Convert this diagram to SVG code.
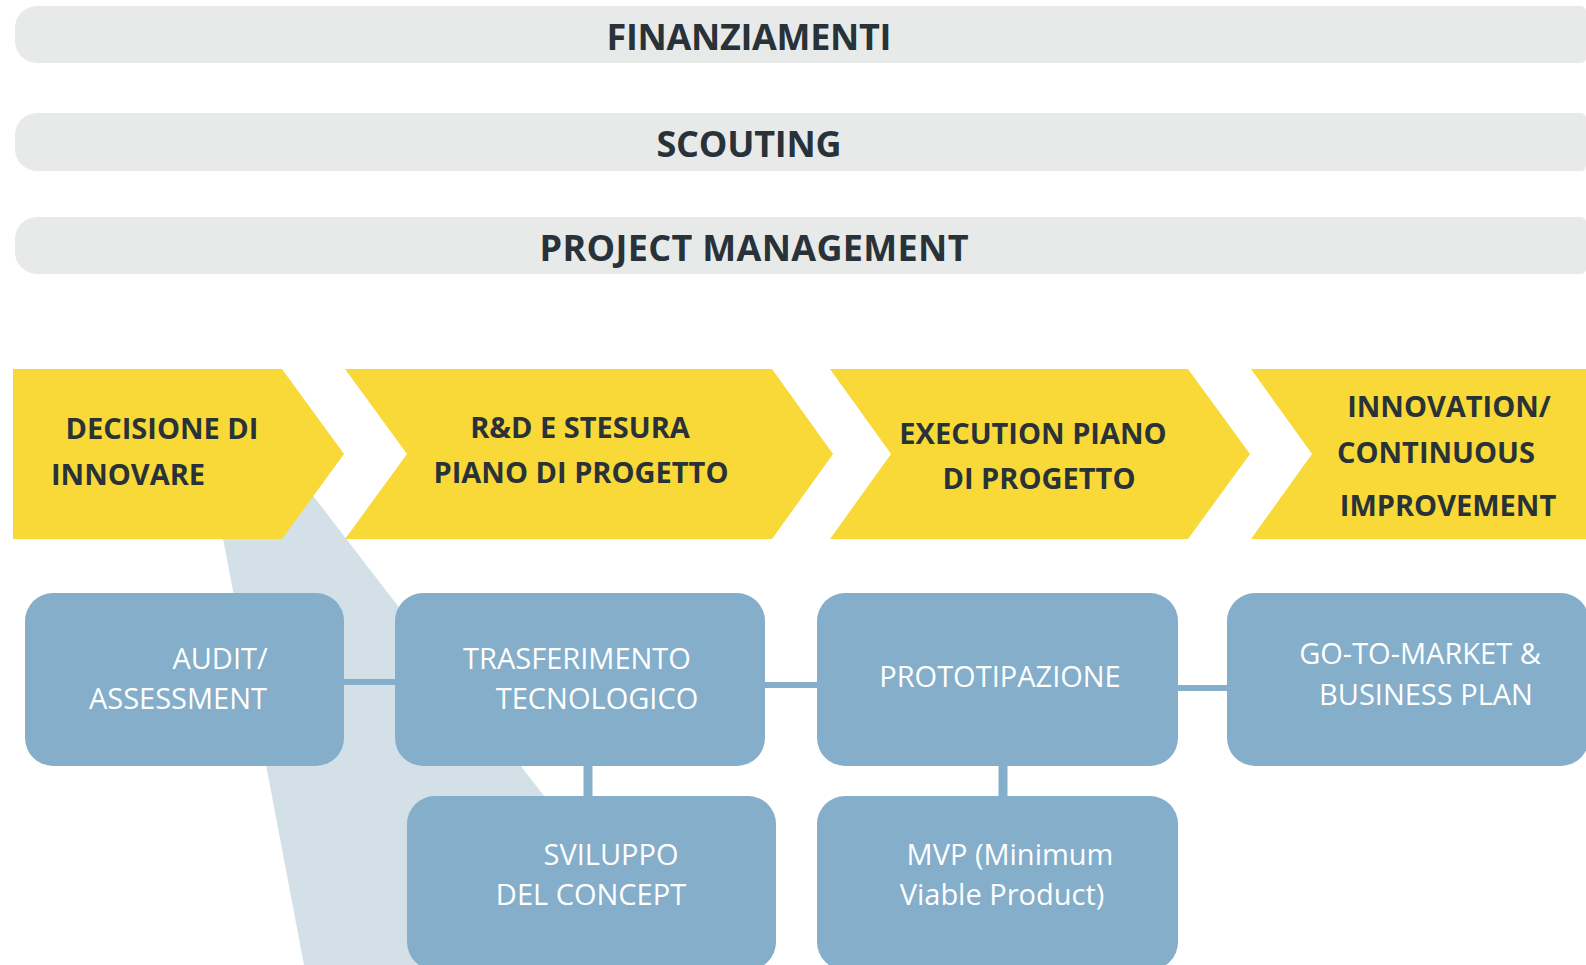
<svg xmlns="http://www.w3.org/2000/svg" width="1586" height="965" viewBox="0 0 1586 965">
<style>
.bar{fill:#e8eae9}
.bt{font-family:"Open Sans","Liberation Sans",sans-serif;font-weight:700;font-size:36px;fill:#283238;text-anchor:middle}
.chev{fill:#f8d937}
.ct{font-family:"Open Sans","Liberation Sans",sans-serif;font-weight:700;font-size:29px;fill:#283238;text-anchor:middle}
.box{fill:#84aeca}
.tt{font-family:"Open Sans","Liberation Sans",sans-serif;font-weight:400;font-size:29px;fill:#ffffff;text-anchor:middle}
.conn{stroke:#84aeca;fill:none}
</style>
<rect width="1586" height="965" fill="#ffffff"/>
<polygon id="wedge" points="207,454 281,454 674,965 304,965" fill="#d4e0e8"/>

<g id="bar-finanziamenti">
<path class="bar" d="M37,6 H1580 Q1586,6 1586,12 V57 Q1586,63 1580,63 H37 A22,22 0 0 1 15,41 V28 A22,22 0 0 1 37,6 Z"/>
<text class="bt" x="749" y="50" textLength="285" lengthAdjust="spacing">FINANZIAMENTI</text>
</g>
<g id="bar-scouting">
<path class="bar" d="M37,113 H1580 Q1586,113 1586,119 V165 Q1586,171 1580,171 H37 A22,22 0 0 1 15,149 V135 A22,22 0 0 1 37,113 Z"/>
<text class="bt" x="749" y="157" textLength="185" lengthAdjust="spacing">SCOUTING</text>
</g>
<g id="bar-pm">
<path class="bar" d="M37,217 H1580 Q1586,217 1586,223 V268 Q1586,274 1580,274 H37 A22,22 0 0 1 15,252 V239 A22,22 0 0 1 37,217 Z"/>
<text class="bt" x="754" y="261" textLength="429" lengthAdjust="spacing">PROJECT MANAGEMENT</text>
</g>

<g id="chev-decisione">
<polygon class="chev" points="13,369 282,369 344,454 282,539 13,539"/>
<text class="ct" x="162" y="439">DECISIONE DI</text>
<text class="ct" x="128" y="485">INNOVARE</text>
</g>
<g id="chev-rd">
<polygon class="chev" points="345,369 772,369 833,454 772,539 345,539 407,454"/>
<text class="ct" x="580" y="438">R&amp;D E STESURA</text>
<text class="ct" x="581" y="483">PIANO DI PROGETTO</text>
</g>
<g id="chev-execution">
<polygon class="chev" points="830,369 1188,369 1250,454 1188,539 830,539 891,454"/>
<text class="ct" x="1033" y="444">EXECUTION PIANO</text>
<text class="ct" x="1039" y="489">DI PROGETTO</text>
</g>
<g id="chev-innovation">
<polygon class="chev" points="1251,369 1590,369 1590,539 1251,539 1312,454"/>
<text class="ct" x="1449" y="417">INNOVATION/</text>
<text class="ct" x="1436" y="463">CONTINUOUS</text>
<text class="ct" x="1448" y="516">IMPROVEMENT</text>
</g>

<g id="connectors">
<line class="conn" x1="340" y1="682" x2="399" y2="682" stroke-width="6"/>
<line class="conn" x1="761" y1="685" x2="821" y2="685" stroke-width="6"/>
<line class="conn" x1="1174" y1="688" x2="1231" y2="688" stroke-width="6"/>
<line class="conn" x1="588" y1="762" x2="588" y2="800" stroke-width="9"/>
<line class="conn" x1="1003" y1="762" x2="1003" y2="800" stroke-width="9"/>
</g>

<g id="box-audit">
<rect class="box" x="25" y="593" width="319" height="173" rx="28"/>
<text class="tt" x="220" y="669">AUDIT/</text>
<text class="tt" x="178" y="709">ASSESSMENT</text>
</g>
<g id="box-trasferimento">
<rect class="box" x="395" y="593" width="370" height="173" rx="28"/>
<text class="tt" x="577" y="669">TRASFERIMENTO</text>
<text class="tt" x="597" y="709">TECNOLOGICO</text>
</g>
<g id="box-prototipazione">
<rect class="box" x="817" y="593" width="361" height="173" rx="28"/>
<text class="tt" x="1000" y="687">PROTOTIPAZIONE</text>
</g>
<g id="box-gotomarket">
<rect class="box" x="1227" y="593" width="362" height="173" rx="28"/>
<text class="tt" x="1420" y="664">GO-TO-MARKET &amp;</text>
<text class="tt" x="1426" y="705">BUSINESS PLAN</text>
</g>
<g id="box-sviluppo">
<rect class="box" x="407" y="796" width="369" height="174" rx="28"/>
<text class="tt" x="611" y="865">SVILUPPO</text>
<text class="tt" x="591" y="905">DEL CONCEPT</text>
</g>
<g id="box-mvp">
<rect class="box" x="817" y="796" width="361" height="174" rx="28"/>
<text class="tt" x="1010" y="865">MVP (Minimum</text>
<text class="tt" x="1002" y="905">Viable Product)</text>
</g>
</svg>
